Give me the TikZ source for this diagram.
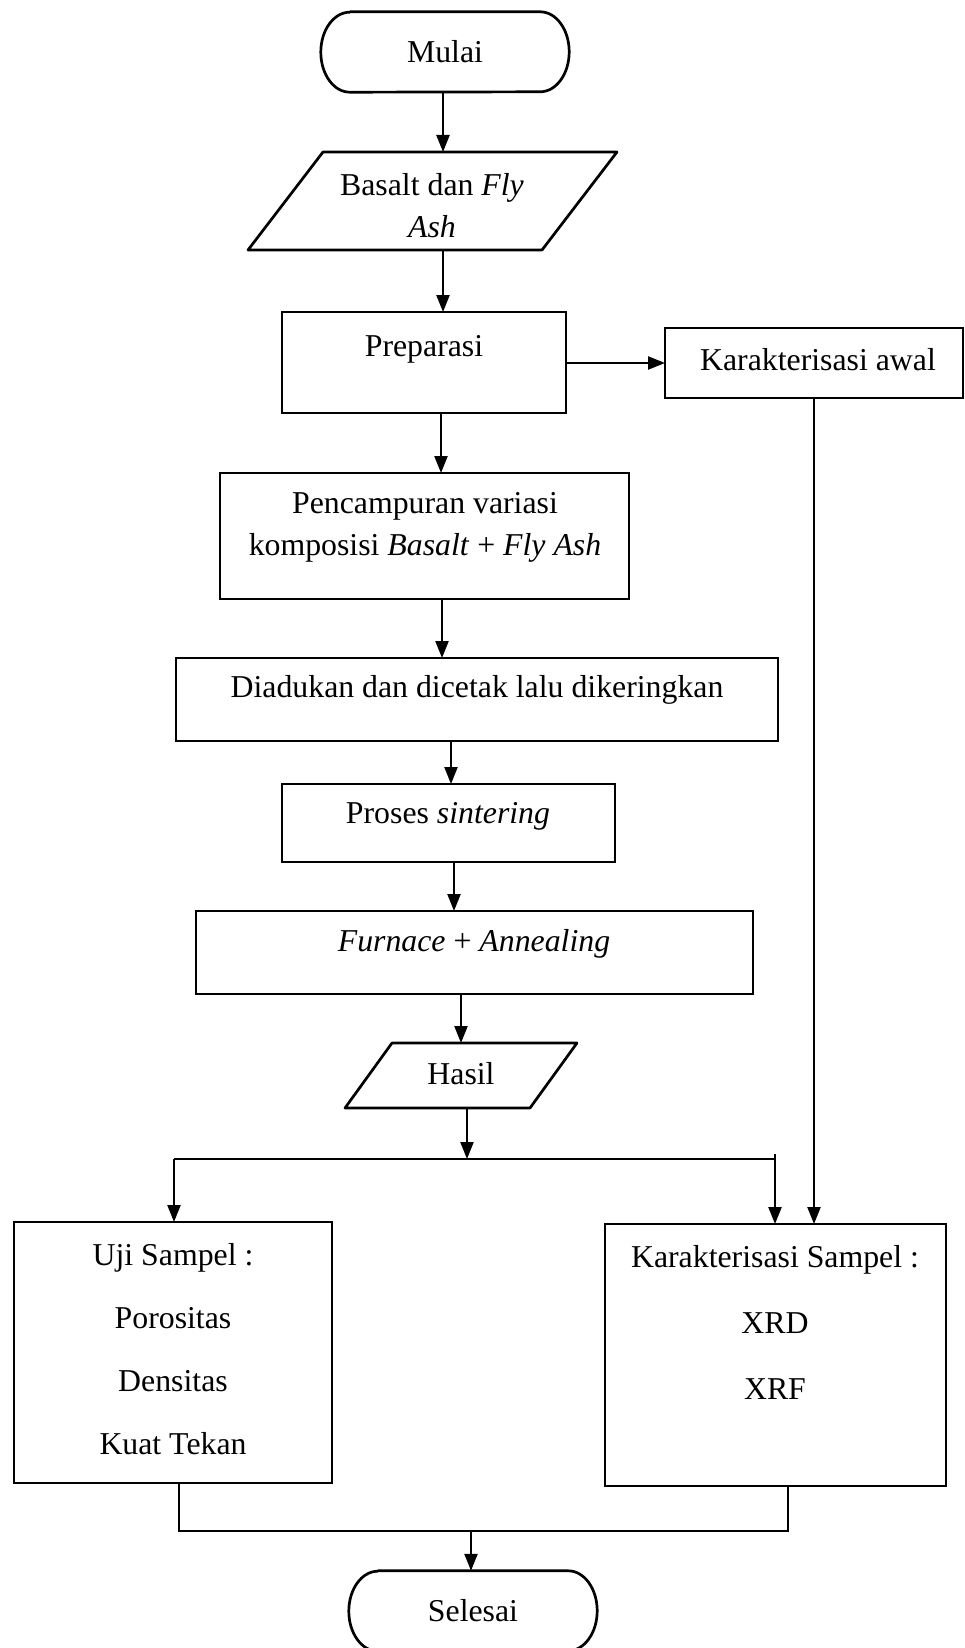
\documentclass[tikz,border=0pt]{standalone}
\usepackage{fontspec}
\setmainfont{Liberation Serif}
\usetikzlibrary{arrows.meta,calc}
\begin{document}
\begin{tikzpicture}[x=1pt,y=-1pt,
  box/.style={draw, line width=2.7pt, inner sep=0pt, outer sep=0pt},
  thinbox/.style={draw, line width=1.3pt, inner sep=0pt, outer sep=0pt},
  txt/.style={inner sep=0pt, align=center, font=\fontsize{31.8}{42}\selectfont},
  arr/.style={line width=2.3pt, -{Triangle[length=17pt,width=13pt]}},
  thinline/.style={line width=1.3pt},
  outline/.style={line width=2.7pt, line join=round},
]
\useasboundingbox (0,0) rectangle (965,1648);

% ---------- terminals ----------
\node[txt, minimum width=248pt, minimum height=80pt] (mulai) at (445,52) {Mulai};
\draw[outline] ([xshift=29pt]mulai.north west) -- ([xshift=-29pt]mulai.north east)
  arc[start angle=90,end angle=-90,x radius=29pt,y radius=40pt]
  -- ([xshift=29pt]mulai.south west)
  arc[start angle=270,end angle=90,x radius=29pt,y radius=40pt] -- cycle;

\node[txt, minimum width=248pt, minimum height=80pt] (selesai) at (473,1611) {Selesai};
\draw[outline] ([xshift=29pt]selesai.north west) -- ([xshift=-29pt]selesai.north east)
  arc[start angle=90,end angle=-90,x radius=29pt,y radius=40pt]
  -- ([xshift=29pt]selesai.south west)
  arc[start angle=270,end angle=90,x radius=29pt,y radius=40pt] -- cycle;

% ---------- input parallelogram ----------
\draw[outline] (323,152) -- (617,152) -- (542,250) -- (248,250) -- cycle;
\node[txt] (basalt) at (432,206) {Basalt dan \textit{Fly}\\\textit{Ash}};
\coordinate (basalt-top) at (443,152);
\coordinate (basalt-bot) at (443,250);

% ---------- process boxes ----------
\node[box, minimum width=284pt, minimum height=101pt] (prep) at (424,362.5) {};
\node[txt] (prep-t) at (424,349) {Preparasi};

\node[box, minimum width=298pt, minimum height=70pt] (kawal) at (814,363) {};
\node[txt] (kawal-t) at (818,360) {Karakterisasi awal};

\node[box, minimum width=409pt, minimum height=126pt] (mix) at (424.5,536) {};
\node[txt] (mix-t) at (425,527) {Pencampuran variasi\\komposisi \textit{Basalt} + \textit{Fly Ash}};

\node[box, minimum width=602pt, minimum height=83pt] (diad) at (477,699.5) {};
\node[txt] (diad-t) at (477,690) {Diadukan dan dicetak lalu dikeringkan};

\node[thinbox, minimum width=333pt, minimum height=78pt] (sint) at (448.5,823) {};
\node[txt] (sint-t) at (448,816) {Proses \textit{sintering}};

\node[box, minimum width=557pt, minimum height=83pt] (furn) at (474.5,952.5) {};
\node[txt] (furn-t) at (474,944) {\textit{Furnace} + \textit{Annealing}};

% ---------- output parallelogram ----------
\draw[outline] (392,1043) -- (577,1043) -- (530,1108) -- (345,1108) -- cycle;
\node[txt] (hasil) at (461,1074) {Hasil};
\coordinate (hasil-top) at (461,1043);
\coordinate (hasil-bot) at (467,1108);

% ---------- result boxes ----------
\node[box, minimum width=318pt, minimum height=261pt] (uji) at (173,1352.5) {};
\node[txt] (uji-t) at (173,1349) {Uji Sampel :\\[21pt]Porositas\\[21pt]Densitas\\[21pt]Kuat Tekan};

\node[box, minimum width=341pt, minimum height=262pt] (ks) at (775.5,1355) {};
\node[txt] (ks-t) at (775,1322) {Karakterisasi Sampel :\\[24pt]XRD\\[24pt]XRF};

% ---------- helper coordinates ----------
\coordinate (c4) at (441,0);
\coordinate (c5) at (442,0);
\coordinate (c6) at (451,0);
\coordinate (c7) at (454,0);
\coordinate (jn) at (467,1159);
\coordinate (tl) at (174,1159);
\coordinate (tr) at (775,1159);
\coordinate (kb) at (814,922);
\coordinate (bl) at (179,0);
\coordinate (br) at (788,0);
\coordinate (bj) at (471,1531);

% ---------- connectors ----------
\draw[arr] (mulai.south -| basalt-top) -- (basalt-top);
\draw[arr] (basalt-bot) -- (basalt-bot |- prep.north);
\draw[arr] (prep.east |- kawal.west) -- (kawal.west);
\draw[arr] (c4 |- prep.south) -- (c4 |- mix.north);
\draw[arr] (c5 |- mix.south) -- (c5 |- diad.north);
\draw[arr] (c6 |- diad.south) -- (c6 |- sint.north);
\draw[arr] (c7 |- sint.south) -- (c7 |- furn.north);
\draw[arr] (hasil-top |- furn.south) -- (hasil-top);
\draw[arr] (hasil-bot) -- (jn);
\draw[thinline] (tl) -- (tr);
\draw[arr] (tl) -- (tl |- uji.north);
\draw[arr] ([yshift=5pt]tr) -- (tr |- ks.north);
\draw[thinline] (kawal.south) -- (kb);
\draw[arr] (kb) -- (kb |- ks.north);
\draw[thinline] (bl |- uji.south) |- (br |- bj) -- (br |- ks.south);
\draw[arr] (bj) -- (bj |- selesai.north);
\end{tikzpicture}
\end{document}
